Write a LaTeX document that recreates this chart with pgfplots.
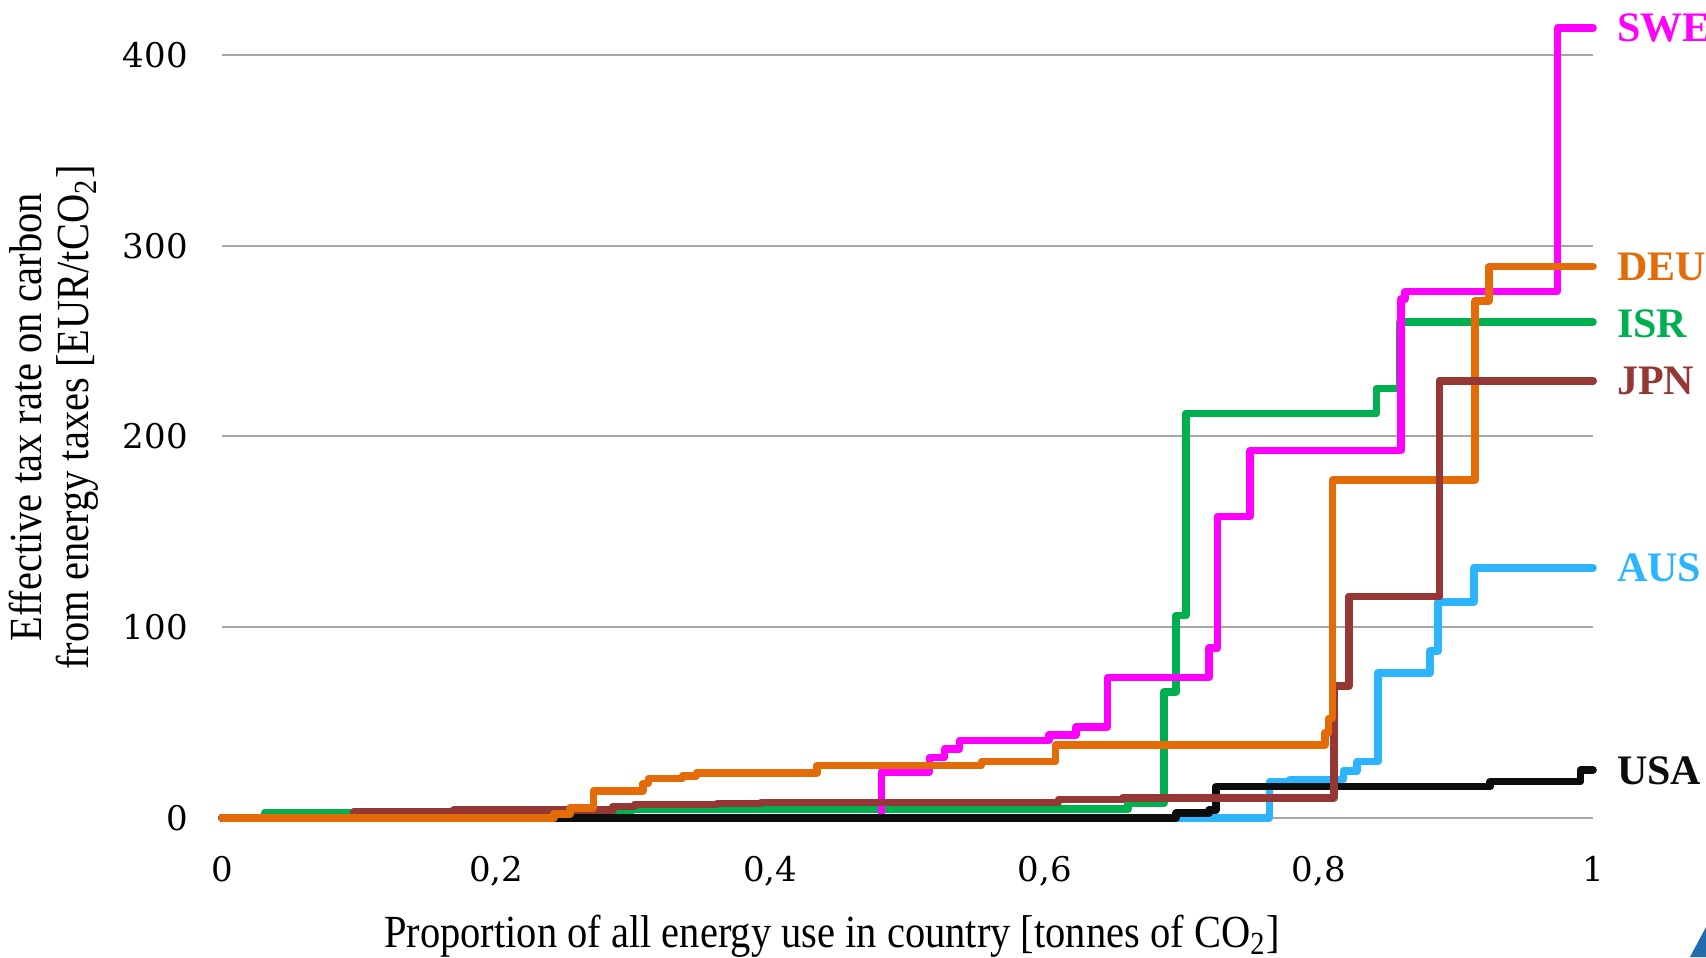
\documentclass[border=0pt]{standalone}
\usepackage{fontspec}
\setmainfont{Liberation Serif}
\newfontfamily\condf[FakeStretch=0.88]{Liberation Serif}
\newfontfamily\tickf{DejaVu Serif}
\usepackage{pgfplots}
\pgfplotsset{compat=1.18}
\definecolor{cSWE}{HTML}{FF00FF}
\definecolor{cDEU}{HTML}{E36C09}
\definecolor{cISR}{HTML}{00B050}
\definecolor{cJPN}{HTML}{953735}
\definecolor{cAUS}{HTML}{2CB4FF}
\definecolor{cUSA}{HTML}{0D0D0D}
\definecolor{gridc}{HTML}{A6A6A6}
\definecolor{logo}{HTML}{1F6BAE}
\begin{document}
\begin{tikzpicture}
\begin{axis}[
  scale only axis,
  width=342.75pt, height=190.7pt,
  xmin=0, xmax=1, ymin=0, ymax=400,
  clip=false,
  axis line style={draw=none},
  major tick length=0pt,
  ytick={0,100,200,300,400},
  xtick={0,0.2,0.4,0.6,0.8,1},
  ymajorgrids,
  grid style={gridc, line width=0.5pt},
  /pgf/number format/assume math mode=true,
  /pgf/number format/use comma,
  /pgf/number format/1000 sep={},
  ticklabel style={font=\tickf\fontsize{8.5}{10}\selectfont, text=black},
  yticklabel style={xshift=-5pt},
  xticklabel style={yshift=-6pt},
  every axis plot/.append style={const plot, line width=1.9pt, line join=round, line cap=round, no marks},
]
% AUS
\addplot[cAUS] coordinates {(0,0) (0.764,19) (0.779,20) (0.818,24.5) (0.828,29.5) (0.843,76) (0.881,87.5) (0.887,113) (0.913,131) (1,131)};
% ISR
\addplot[cISR] coordinates {(0,0) (0.031,2.5) (0.217,4) (0.300,4.5) (0.661,7.5) (0.687,66) (0.696,106) (0.703,212) (0.842,225) (0.859,260) (1,260)};
% SWE
\addplot[cSWE] coordinates {(0,0) (0.481,24) (0.516,31.5) (0.527,36) (0.538,40.5) (0.603,43.5) (0.623,47.5) (0.646,73.5) (0.720,89) (0.726,158) (0.750,192.5) (0.860,272) (0.863,276) (0.974,414) (1,414)};
% USA
\addplot[cUSA] coordinates {(0,0) (0.696,2.5) (0.720,4) (0.725,16.3) (0.925,19) (0.991,25) (1,25)};
% JPN
\addplot[cJPN] coordinates {(0,0) (0.096,3) (0.169,4) (0.285,6) (0.301,7) (0.361,7.5) (0.393,8) (0.610,9.5) (0.657,10.5) (0.811,69) (0.822,116) (0.888,229) (1,229)};
% DEU
\addplot[cDEU] coordinates {(0,0) (0.242,2) (0.254,5) (0.271,14) (0.307,18) (0.311,20.5) (0.336,22) (0.346,23.5) (0.434,27.5) (0.554,29.5) (0.608,38) (0.8045,44.6) (0.807,52) (0.810,177) (0.914,271) (0.924,289) (1,289)};
% JPN vertical segment drawn over DEU as in the reference
\addplot[cJPN, forget plot] coordinates {(0.822,116) (0.888,229) (1,229)};

\begin{scope}[every node/.style={anchor=west, font=\bfseries\fontsize{10.5}{12}\selectfont, xshift=2.5pt}]
\node[text=cSWE] at (axis cs:1,414) {SWE};
\node[text=cDEU] at (axis cs:1,289) {DEU};
\node[text=cISR] at (axis cs:1,259) {ISR};
\node[text=cJPN] at (axis cs:1,229) {JPN};
\node[text=cAUS] at (axis cs:1,131) {AUS};
\node[text=cUSA] at (axis cs:1,24.5) {USA};
\end{scope}

\node[font=\condf\fontsize{11.5}{13}\selectfont, anchor=center] at (rel axis cs:0.445,-0.155) {Proportion of all energy use in country [tonnes of CO\textsubscript{2}]};
\node[font=\condf\fontsize{11.5}{11.8}\selectfont, align=center, rotate=90, anchor=center] at (rel axis cs:-0.1225,0.525) {Effective tax rate on carbon\\from energy taxes [EUR/tCO\textsubscript{2}]};

\fill[logo] (rel axis cs:1.0824,-0.1433) -- (rel axis cs:1.0824,-0.1826) -- (rel axis cs:1.0707,-0.1826) -- cycle;

\coordinate (bbl) at (rel axis cs:-0.1619,-0.1826);
\coordinate (btr) at (rel axis cs:1.0824,1.072);
\end{axis}
\pgfresetboundingbox
\path[use as bounding box] (bbl) rectangle (btr);
\end{tikzpicture}
\end{document}
